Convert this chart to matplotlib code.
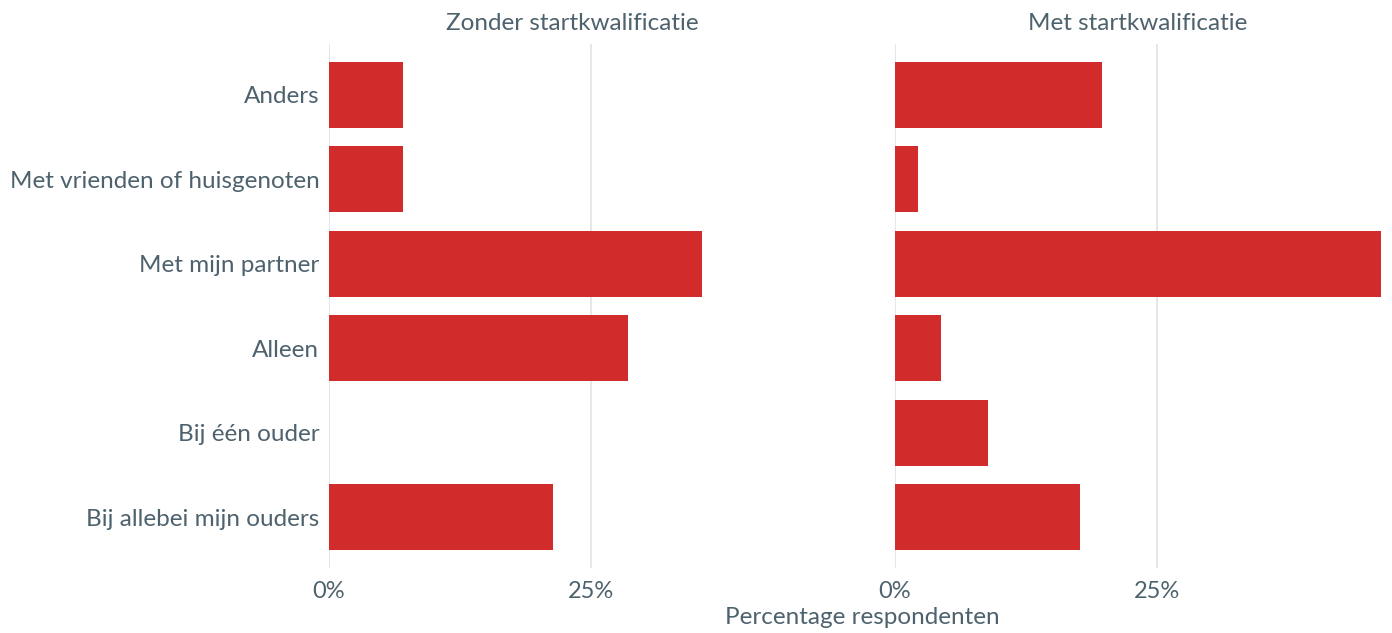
import matplotlib
matplotlib.use("Agg")
import matplotlib.pyplot as plt
from matplotlib.ticker import FuncFormatter

# categories bottom -> top
categories = ["Bij allebei mijn ouders", "Bij één ouder", "Alleen",
              "Met mijn partner", "Met vrienden of huisgenoten", "Anders"]
zonder = [21.4, 0.0, 28.5, 35.6, 7.1, 7.1]
met = [17.7, 8.9, 4.4, 46.4, 2.2, 19.8]
panel_titles = ["Zonder startkwalificatie", "Met startkwalificatie"]
x_ticks = [0, 25]

BAR_COLOR = "#D12C2B"
TEXT_COLOR = "#4E626E"
GRID_COLOR = "#E3E3E3"
FS = 17.5

plt.rcParams["font.family"] = ["Lato", "DejaVu Sans"]

fig = plt.figure(figsize=(13.92, 6.33), dpi=100)
W, H = 1392, 633
y_top, y_bot = 44, 568
panel_w = 486
axes = [
    fig.add_axes([329 / W, 1 - y_bot / H, panel_w / W, (y_bot - y_top) / H]),
    fig.add_axes([895 / W, 1 - y_bot / H, panel_w / W, (y_bot - y_top) / H]),
]
xmax = max(max(zonder), max(met))
ypos = list(range(1, len(categories) + 1))

for ax, vals, title in zip(axes, [zonder, met], panel_titles):
    ax.barh(ypos, vals, height=0.78, color=BAR_COLOR, zorder=2)
    ax.set_xlim(0, xmax)
    ax.set_ylim(0.4, len(categories) + 0.6)
    ax.set_xticks(x_ticks)
    ax.xaxis.set_major_formatter(FuncFormatter(lambda v, p: f"{v:.0f}%"))
    ax.grid(axis="x", color=GRID_COLOR, linewidth=1.2, zorder=0)
    for s in ax.spines.values():
        s.set_visible(False)
    ax.tick_params(length=0, labelsize=FS, colors=TEXT_COLOR, pad=9)
    ax.tick_params(axis="x", labelsize=17)
    ax.set_title(title, fontsize=FS, color=TEXT_COLOR, pad=10)
    ax.set_yticks(ypos)

axes[0].set_yticklabels(categories)
axes[0].tick_params(axis="y", pad=7)
axes[1].set_yticklabels([])

fig.text(862 / W, 1 - 617 / H, "Percentage respondenten", ha="center", va="center",
         fontsize=FS, color=TEXT_COLOR)

fig.savefig("out.png", dpi=100)
